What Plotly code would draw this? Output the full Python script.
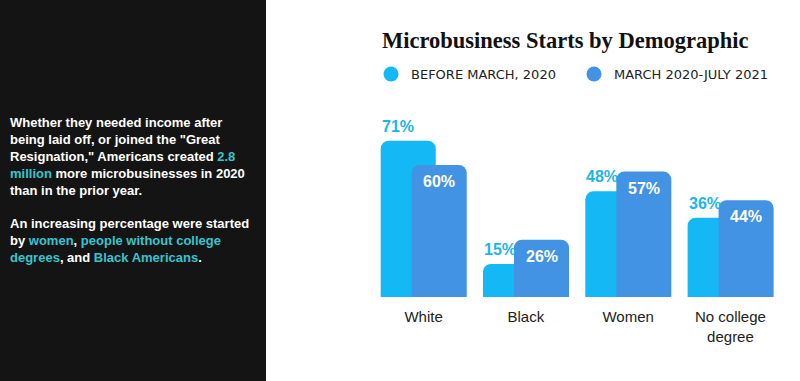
import plotly.graph_objects as go

categories = ["White", "Black", "Women", "No college<br>degree"]
before_2020 = [71, 15, 48, 36]
after_2020 = [60, 26, 57, 44]
series_names = ["BEFORE MARCH, 2020", "MARCH 2020-JULY 2021"]

C1 = "#14b8f4"
C2 = "#4393e4"
LBL1 = "#1db4ec"
TEAL = "#36c5cf"

W = 0.538
OFF1 = -0.419
OFF2 = -0.116

L, R, T, B = 376, 10, 100, 84
PW = 800 - L - R
PH = 381 - T - B

def px(xp):
    return (xp - L) / PW

def py(yp):
    return (381 - B - yp) / PH

fig = go.Figure()
fig.add_trace(go.Bar(x=categories, y=before_2020, width=W, offset=OFF1,
                     marker=dict(color=C1, line=dict(width=0)), showlegend=False,
                     name=series_names[0]))
fig.add_trace(go.Bar(x=categories, y=after_2020, width=W, offset=OFF2,
                     marker=dict(color=C2, line=dict(width=0)), showlegend=False,
                     name=series_names[1]))
# legend entries (circles)
for nm, col in zip(series_names, [C1, C2]):
    fig.add_trace(go.Scatter(x=[None], y=[None], mode="markers", name=nm,
                             marker=dict(symbol="circle", size=15, color=col)))

annotations = []
for i, v in enumerate(before_2020):
    annotations.append(dict(x=i + OFF1, y=v, xref="x", yref="y", text=f"{v}%",
                            showarrow=False, xanchor="left", yanchor="bottom", yshift=4, xshift=-1,
                            font=dict(family="Liberation Sans", size=16, color=LBL1, weight="bold")))
for i, v in enumerate(after_2020):
    annotations.append(dict(x=i + OFF2 + W / 2, y=v, xref="x", yref="y", text=f"{v}%",
                            showarrow=False, xanchor="center", yanchor="top", yshift=-6,
                            font=dict(family="Liberation Sans", size=16, color="white", weight="bold")))

def hl(s):
    return f"<span style='color:{TEAL}'>{s}</span>"

side_text = ("Whether they needed income after<br>being laid off, or joined the \"Great<br>"
             "Resignation,\" Americans created " + hl("2.8") + "<br>" + hl("million") +
             " more microbusinesses in 2020<br>than in the prior year.<br><br>"
             "An increasing percentage were started<br>by " + hl("women") + ", " +
             hl("people without college") + "<br>" + hl("degrees") + ", and " +
             hl("Black Americans") + ".")
annotations.append(dict(x=px(8), y=py(189.5), xref="paper", yref="paper", text=side_text,
                        showarrow=False, xanchor="left", yanchor="middle", align="left",
                        font=dict(family="Liberation Sans", size=13, color="white", weight="bold")))

fig.update_layout(
    width=800, height=381,
    margin=dict(l=L, r=R, t=T, b=B),
    paper_bgcolor="white", plot_bgcolor="white",
    barmode="overlay", barcornerradius=8,
    title=dict(text="Microbusiness Starts by Demographic", x=382 / 800, xanchor="left",
               xref="container", y=1 - 40 / 381, yanchor="middle", yref="container",
               font=dict(family="Liberation Serif", size=22.5, color="#111111", weight="bold")),
    legend=dict(orientation="h", x=px(371), xanchor="left", y=py(74), yanchor="middle",
                font=dict(family="DejaVu Sans", size=13, color="#222222"),
                entrywidth=158, entrywidthmode="pixels", bgcolor="rgba(0,0,0,0)"),
    xaxis=dict(range=[-0.465, 3.582], showgrid=False, zeroline=False, showline=False,
               ticks="outside", ticklen=6, tickcolor="rgba(0,0,0,0)",
               tickfont=dict(family="Liberation Sans", size=15, color="#222222")),
    yaxis=dict(range=[0, 89.5], visible=False, showgrid=False, zeroline=False),
    annotations=annotations,
    shapes=[dict(type="rect", xref="paper", yref="paper", x0=-1.0, x1=px(266),
                 y0=-0.6, y1=1.7, fillcolor="#141414", line=dict(width=0), layer="below")],
)

fig.write_html("out.html", config={"displayModeBar": False},
               post_script="document.body.style.margin='0';")
